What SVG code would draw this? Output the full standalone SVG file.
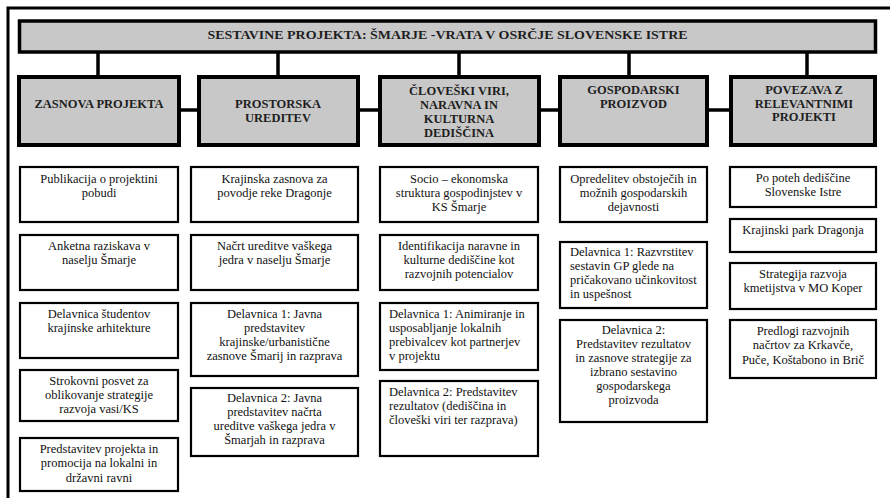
<svg xmlns="http://www.w3.org/2000/svg" width="890" height="498" viewBox="0 0 890 498">
<style>
.frame{stroke:#000;stroke-width:3;fill:none}
.banner{fill:#c8c8c8;stroke:#000;stroke-width:3.5}
.hdr{fill:#c8c8c8;stroke:#000;stroke-width:4}
.box{fill:#fff;stroke:#000;stroke-width:2.2}
.conn{stroke:#000;stroke-width:3.5;fill:none}
.ht{font-family:"Liberation Serif","Times New Roman",serif;font-weight:bold;font-size:12.5px;fill:#1e1e1e;text-anchor:middle}
.bt{font-family:"Liberation Serif","Times New Roman",serif;font-size:12.5px;fill:#111;text-anchor:middle}
.bl{font-family:"Liberation Serif","Times New Roman",serif;font-size:12.5px;fill:#111;text-anchor:start}
</style>
<rect width="890" height="498" fill="#fff"/>
<g id="frame">
<polyline class="frame" points="8,498 8,8 890,8"/>
</g>
<g id="connectors">
<line class="conn" x1="98" y1="53" x2="98" y2="76"/>
<line class="conn" x1="278" y1="53" x2="278" y2="76"/>
<line class="conn" x1="459" y1="53" x2="459" y2="76"/>
<line class="conn" x1="629" y1="53" x2="629" y2="76"/>
<line class="conn" x1="807" y1="53" x2="807" y2="76"/>
<line class="conn" x1="179" y1="110" x2="198" y2="110"/>
<line class="conn" x1="358" y1="110" x2="379" y2="110"/>
<line class="conn" x1="539" y1="110" x2="559" y2="110"/>
<line class="conn" x1="707" y1="110" x2="730" y2="110"/>
</g>
<g id="banner">
<rect class="banner" x="19.5" y="21" width="856" height="31"/>
<text class="ht" x="447.5" y="38.5" textLength="480" lengthAdjust="spacingAndGlyphs">SESTAVINE PROJEKTA: ŠMARJE -VRATA V OSRČJE SLOVENSKE ISTRE</text>
</g>
<g id="h1">
<rect class="hdr" x="19" y="77" width="160" height="68"/>
<text class="ht" x="99" y="108">ZASNOVA PROJEKTA</text>
</g>
<g id="h2">
<rect class="hdr" x="199" y="77" width="159" height="68"/>
<text class="ht" x="278" y="108">PROSTORSKA</text>
<text class="ht" x="278" y="121.5">UREDITEV</text>
</g>
<g id="h3">
<rect class="hdr" x="380" y="77" width="159" height="68"/>
<text class="ht" x="459" y="94.5">ČLOVEŠKI VIRI,</text>
<text class="ht" x="459" y="108.5">NARAVNA IN</text>
<text class="ht" x="459" y="122.5">KULTURNA</text>
<text class="ht" x="459" y="136.5">DEDIŠČINA</text>
</g>
<g id="h4">
<rect class="hdr" x="560" y="77" width="147" height="68"/>
<text class="ht" x="633.5" y="94">GOSPODARSKI</text>
<text class="ht" x="633.5" y="108">PROIZVOD</text>
</g>
<g id="h5">
<rect class="hdr" x="731" y="77" width="144" height="68"/>
<text class="ht" x="804" y="94">POVEZAVA Z</text>
<text class="ht" x="804" y="107.5">RELEVANTNIMI</text>
<text class="ht" x="804" y="121">PROJEKTI</text>
</g>
<g id="c1b1"><rect class="box" x="20" y="167" width="158" height="55"/>
<text class="bt" x="99" y="183">Publikacija o projektini</text><text class="bt" x="99" y="197">pobudi</text></g>
<g id="c1b2"><rect class="box" x="20" y="235" width="158" height="55"/>
<text class="bt" x="99" y="250">Anketna raziskava v</text><text class="bt" x="99" y="264">naselju Šmarje</text></g>
<g id="c1b3"><rect class="box" x="20" y="303" width="158" height="55"/>
<text class="bt" x="99" y="318">Delavnica študentov</text><text class="bt" x="99" y="332">krajinske arhitekture</text></g>
<g id="c1b4"><rect class="box" x="20" y="370" width="158" height="51"/>
<text class="bt" x="99" y="385">Strokovni posvet za</text><text class="bt" x="99" y="399">oblikovanje strategije</text><text class="bt" x="99" y="413">razvoja vasi/KS</text></g>
<g id="c1b5"><rect class="box" x="20" y="438" width="158" height="53"/>
<text class="bt" x="99" y="453">Predstavitev projekta in</text><text class="bt" x="99" y="467">promocija na lokalni in</text><text class="bt" x="99" y="481.5">državni ravni</text></g>
<g id="c2b1"><rect class="box" x="191" y="167" width="167" height="55"/>
<text class="bt" x="274.5" y="183">Krajinska zasnova za</text><text class="bt" x="274.5" y="197">povodje reke Dragonje</text></g>
<g id="c2b2"><rect class="box" x="191" y="235" width="167" height="55"/>
<text class="bt" x="274.5" y="250">Načrt ureditve vaškega</text><text class="bt" x="274.5" y="264">jedra v naselju Šmarje</text></g>
<g id="c2b3"><rect class="box" x="191" y="303" width="167" height="73"/>
<text class="bt" x="274.5" y="318">Delavnica 1: Javna</text><text class="bt" x="274.5" y="332">predstavitev</text><text class="bt" x="274.5" y="346">krajinske/urbanistične</text><text class="bt" x="274.5" y="360">zasnove Šmarij in razprava</text></g>
<g id="c2b4"><rect class="box" x="191" y="388" width="167" height="68"/>
<text class="bt" x="274.5" y="402">Delavnica 2: Javna</text><text class="bt" x="274.5" y="416">predstavitev načrta</text><text class="bt" x="274.5" y="430">ureditve vaškega jedra v</text><text class="bt" x="274.5" y="444">Šmarjah in razprava</text></g>
<g id="c3b1"><rect class="box" x="380" y="167" width="158" height="55"/>
<text class="bt" x="459" y="183">Socio – ekonomska</text><text class="bt" x="459" y="197">struktura gospodinjstev v</text><text class="bt" x="459" y="211">KS Šmarje</text></g>
<g id="c3b2"><rect class="box" x="380" y="235" width="158" height="55"/>
<text class="bt" x="459" y="250">Identifikacija naravne in</text><text class="bt" x="459" y="264">kulturne dediščine kot</text><text class="bt" x="459" y="278">razvojnih potencialov</text></g>
<g id="c3b3"><rect class="box" x="380" y="303" width="158" height="67"/>
<text class="bl" x="389" y="318">Delavnica 1: Animiranje in</text><text class="bl" x="389" y="332">usposabljanje lokalnih</text><text class="bl" x="389" y="346">prebivalcev kot partnerjev</text><text class="bl" x="389" y="360">v projektu</text></g>
<g id="c3b4"><rect class="box" x="380" y="381" width="158" height="75"/>
<text class="bl" x="389" y="396">Delavnica 2: Predstavitev</text><text class="bl" x="389" y="410">rezultatov (dediščina in</text><text class="bl" x="389" y="424">človeški viri ter razprava)</text></g>
<g id="c4b1"><rect class="box" x="560" y="167" width="147" height="55"/>
<text class="bt" x="633.5" y="183">Opredelitev obstoječih in</text><text class="bt" x="633.5" y="197">možnih gospodarskih</text><text class="bt" x="633.5" y="211">dejavnosti</text></g>
<g id="c4b2"><rect class="box" x="560" y="242" width="147" height="66"/>
<text class="bl" x="570" y="256">Delavnica 1: Razvrstitev</text><text class="bl" x="570" y="270">sestavin GP glede na</text><text class="bl" x="570" y="284">pričakovano učinkovitost</text><text class="bl" x="570" y="298">in uspešnost</text></g>
<g id="c4b3"><rect class="box" x="560" y="320" width="147" height="102"/>
<text class="bt" x="633.5" y="333.5">Delavnica 2:</text><text class="bt" x="633.5" y="347.5">Predstavitev rezultatov</text><text class="bt" x="633.5" y="361.5">in zasnove strategije za</text><text class="bt" x="633.5" y="375.5">izbrano sestavino</text><text class="bt" x="633.5" y="390">gospodarskega</text><text class="bt" x="633.5" y="404">proizvoda</text></g>
<g id="c5b1"><rect class="box" x="730" y="167" width="146" height="40"/>
<text class="bt" x="803" y="181.5">Po poteh dediščine</text><text class="bt" x="803" y="195.5">Slovenske Istre</text></g>
<g id="c5b2"><rect class="box" x="730" y="219" width="146" height="33"/>
<text class="bt" x="803" y="233.5">Krajinski park Dragonja</text></g>
<g id="c5b3"><rect class="box" x="730" y="263" width="146" height="46"/>
<text class="bt" x="803" y="278">Strategija razvoja</text><text class="bt" x="803" y="292">kmetijstva v MO Koper</text></g>
<g id="c5b4"><rect class="box" x="730" y="320" width="146" height="58"/>
<text class="bt" x="803" y="335">Predlogi razvojnih</text><text class="bt" x="803" y="349">načrtov za Krkavče,</text><text class="bt" x="803" y="363.5">Puče, Koštabono in Brič</text></g>
</svg>
